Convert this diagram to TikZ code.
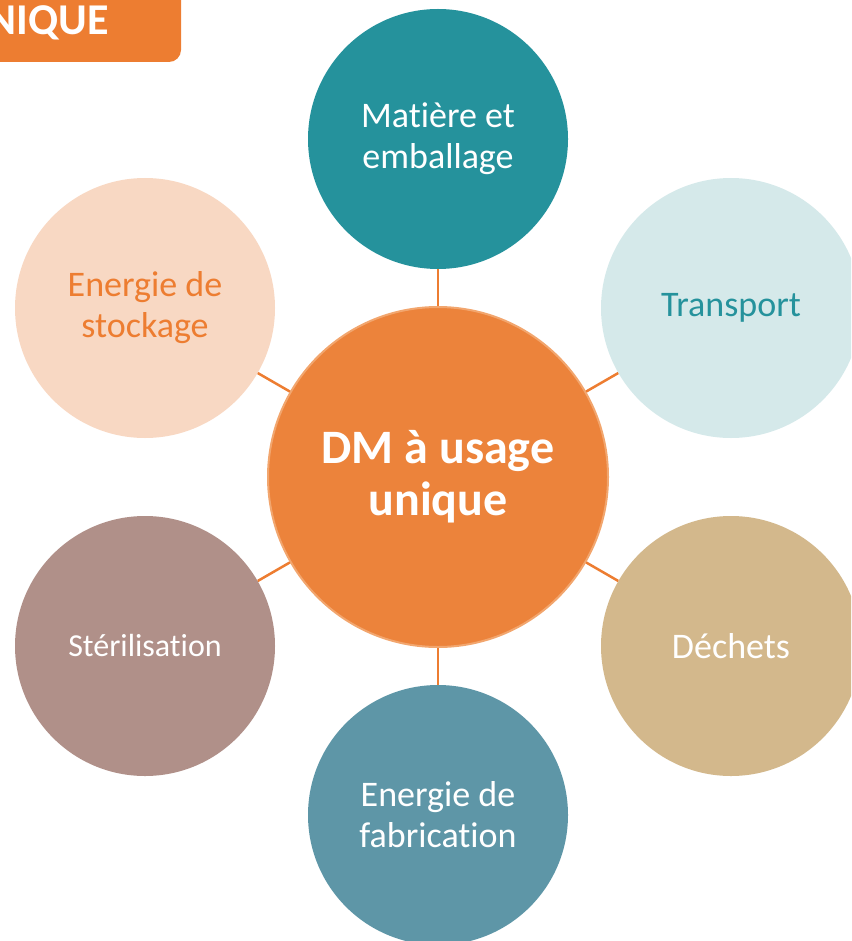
\documentclass[tikz,border=0pt]{standalone}
\usepackage{fontspec}
\setmainfont[Ligatures=NoCommon]{Carlito}
\definecolor{dmorange}{HTML}{EC833B}
\definecolor{dmborder}{HTML}{F2A66E}
\definecolor{linkorange}{HTML}{ED7D31}
\definecolor{tealdark}{HTML}{25929C}
\definecolor{teallight}{HTML}{D5E9EA}
\definecolor{sand}{HTML}{D3B88C}
\definecolor{bluegrey}{HTML}{5E96A7}
\definecolor{rosebrown}{HTML}{B09089}
\definecolor{peach}{HTML}{F8D8C3}
\begin{document}
\begin{tikzpicture}[x=1pt, y=-1pt,
		petal/.style = {circle, minimum size=260pt, inner sep=0pt, align=center, font=\fontsize{36}{41}\selectfont},
		link/.style = {draw=linkorange, line width=2.5pt}]
	\useasboundingbox (0,0) rectangle (851,941);
	\clip (0,0) rectangle (851,941);
	% title tab
	\fill[linkorange, rounded corners=12pt] (-30,-30) rectangle (181,62);
	\node[anchor=base east, inner sep=0pt, text=white, font=\bfseries\fontsize{44}{48}\selectfont] (tab) at (109,35) {UNIQUE};
	% centre
	\node[circle, minimum size=340pt, inner sep=0pt, fill=dmorange, draw=dmborder, line width=2pt, align=center, text=white, font=\bfseries\fontsize{48}{52}\selectfont] (dm) at (438,477) {DM à usage\\unique};
	% petals
	\node[petal, fill=tealdark, text=white] (matiere) at (438,139) {Matière et\\emballage};
	\node[petal, fill=teallight, text=tealdark] (transport) at (731,308) {Transport};
	\node[petal, fill=sand, text=white] (dechets) at (731,646) {Déchets};
	\node[petal, fill=bluegrey, text=white] (fabrication) at (438,815) {Energie de\\fabrication};
	\node[petal, fill=rosebrown, text=white, font=\fontsize{32}{38}\selectfont] (sterilisation) at (145,646) {Stérilisation};
	\node[petal, fill=peach, text=linkorange] (stockage) at (145,308) {Energie de\\stockage};
	% links
	\foreach \p in {matiere, transport, dechets, fabrication, sterilisation, stockage}
		\draw[link] (dm) -- (\p);
\end{tikzpicture}
\end{document}
